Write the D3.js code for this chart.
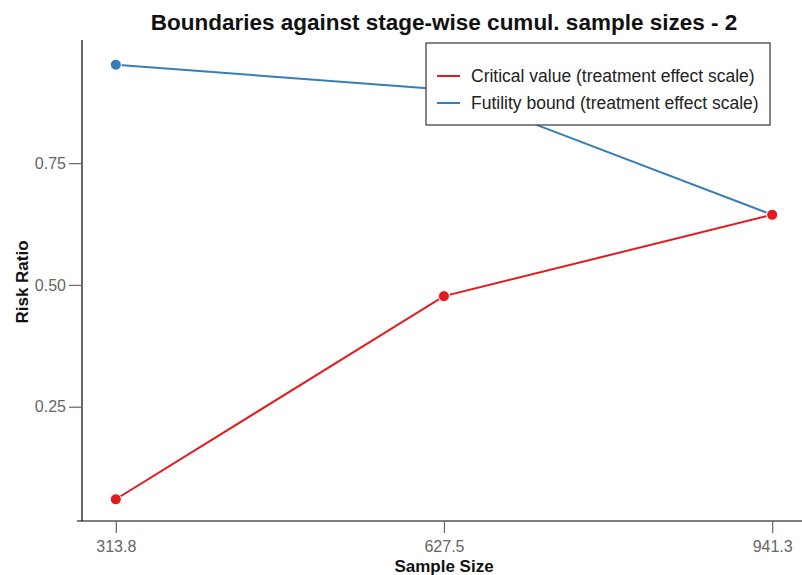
<!DOCTYPE html>
<html><head><meta charset="utf-8">
<script src="https://cdn.jsdelivr.net/npm/d3@7"></script>
<style>body{margin:0;background:#fff}svg{display:block}text{font-family:"Liberation Sans",Arial,sans-serif}</style>
</head><body><div id="c"></div>
<script>
const sampleSizes = [313.8, 627.5, 941.3];
const criticalValues = [0.060, 0.477, 0.644];
const futilityBounds = [0.952, 0.901, 0.644];
const xTickLabels = ["313.8", "627.5", "941.3"];
const yTicks = [0.25, 0.50, 0.75];
const seriesNames = ["Critical value (treatment effect scale)", "Futility bound (treatment effect scale)"];
const seriesColors = ["#E41A1C", "#377EB8"];

const W = 802, H = 575;
const panel = {left: 83, right: 805, top: 43, bottom: 521};
const svg = d3.select("#c").append("svg").attr("width", W).attr("height", H);

function expand(ext){const d=(ext[1]-ext[0])*0.05;return [ext[0]-d, ext[1]+d];}
const x = d3.scaleLinear().domain(expand(d3.extent(sampleSizes))).range([panel.left, panel.right]);
const allY = criticalValues.concat(futilityBounds);
const y = d3.scaleLinear().domain(expand(d3.extent(allY))).range([panel.bottom, panel.top]);

// axes
const xAxis = d3.axisBottom(x).tickValues(sampleSizes).tickFormat((d,i)=>xTickLabels[i]).tickSize(12).tickSizeOuter(0);
const gx = svg.append("g").attr("transform", `translate(0,${panel.bottom})`).call(xAxis);
gx.select(".domain").attr("stroke","#000").attr("stroke-width",1.2).attr("d",`M${panel.left-6},0H${panel.right}`);
gx.selectAll(".tick line").attr("stroke","#666").attr("stroke-width",1.2);
gx.selectAll(".tick text").attr("fill","#666").attr("font-size",16).attr("dy",0).attr("y",31);

const yAxis = d3.axisLeft(y).tickValues(yTicks).tickFormat(d3.format(".2f")).tickSize(13).tickSizeOuter(0);
const gy = svg.append("g").attr("transform", `translate(${panel.left-1},0)`).call(yAxis);
gy.select(".domain").attr("stroke","#000").attr("stroke-width",1.2).attr("d",`M0,${panel.top-3}V${panel.bottom}`);
gy.selectAll(".tick line").attr("stroke","#666").attr("stroke-width",1.2);
gy.selectAll(".tick text").attr("fill","#666").attr("font-size",16).attr("x",-16);

// lines
const series = [criticalValues, futilityBounds];
const line = d3.line().x((d,i)=>x(sampleSizes[i])).y(d=>y(d));
[1,0].forEach(s=>{
  svg.append("path").datum(series[s]).attr("d",line).attr("fill","none")
    .attr("stroke",seriesColors[s]).attr("stroke-width",2);
  svg.append("g").selectAll("circle").data(series[s]).join("circle")
    .attr("cx",(d,i)=>x(sampleSizes[i])).attr("cy",d=>y(d)).attr("r",5.5)
    .attr("fill",seriesColors[s]).attr("stroke","#fff").attr("stroke-width",1);
});

// titles
svg.append("text").attr("x",(panel.left+panel.right)/2).attr("y",30).attr("text-anchor","middle")
  .attr("font-size",22.5).attr("font-weight","bold").attr("fill","#111").text("Boundaries against stage-wise cumul. sample sizes - 2");
svg.append("text").attr("x",(panel.left+panel.right)/2).attr("y",572).attr("text-anchor","middle")
  .attr("font-size",17).attr("font-weight","bold").attr("fill","#111").text("Sample Size");
svg.append("text").attr("transform",`translate(28,${(panel.top+panel.bottom)/2}) rotate(-90)`).attr("text-anchor","middle")
  .attr("font-size",17).attr("font-weight","bold").attr("fill","#111").text("Risk Ratio");

// legend
const lg = svg.append("g").attr("transform","translate(426,43)");
lg.append("rect").attr("width",344).attr("height",82).attr("fill","#fff").attr("stroke","#444").attr("stroke-width",1.3);
seriesNames.forEach((n,i)=>{
  const yy = 33 + i*27;
  lg.append("line").attr("x1",11).attr("x2",34).attr("y1",yy).attr("y2",yy).attr("stroke",seriesColors[i]).attr("stroke-width",2);
  lg.append("text").attr("x",45).attr("y",yy).attr("dy","0.35em").attr("font-size",17.5).attr("fill","#222").text(n);
});
</script></body></html>
